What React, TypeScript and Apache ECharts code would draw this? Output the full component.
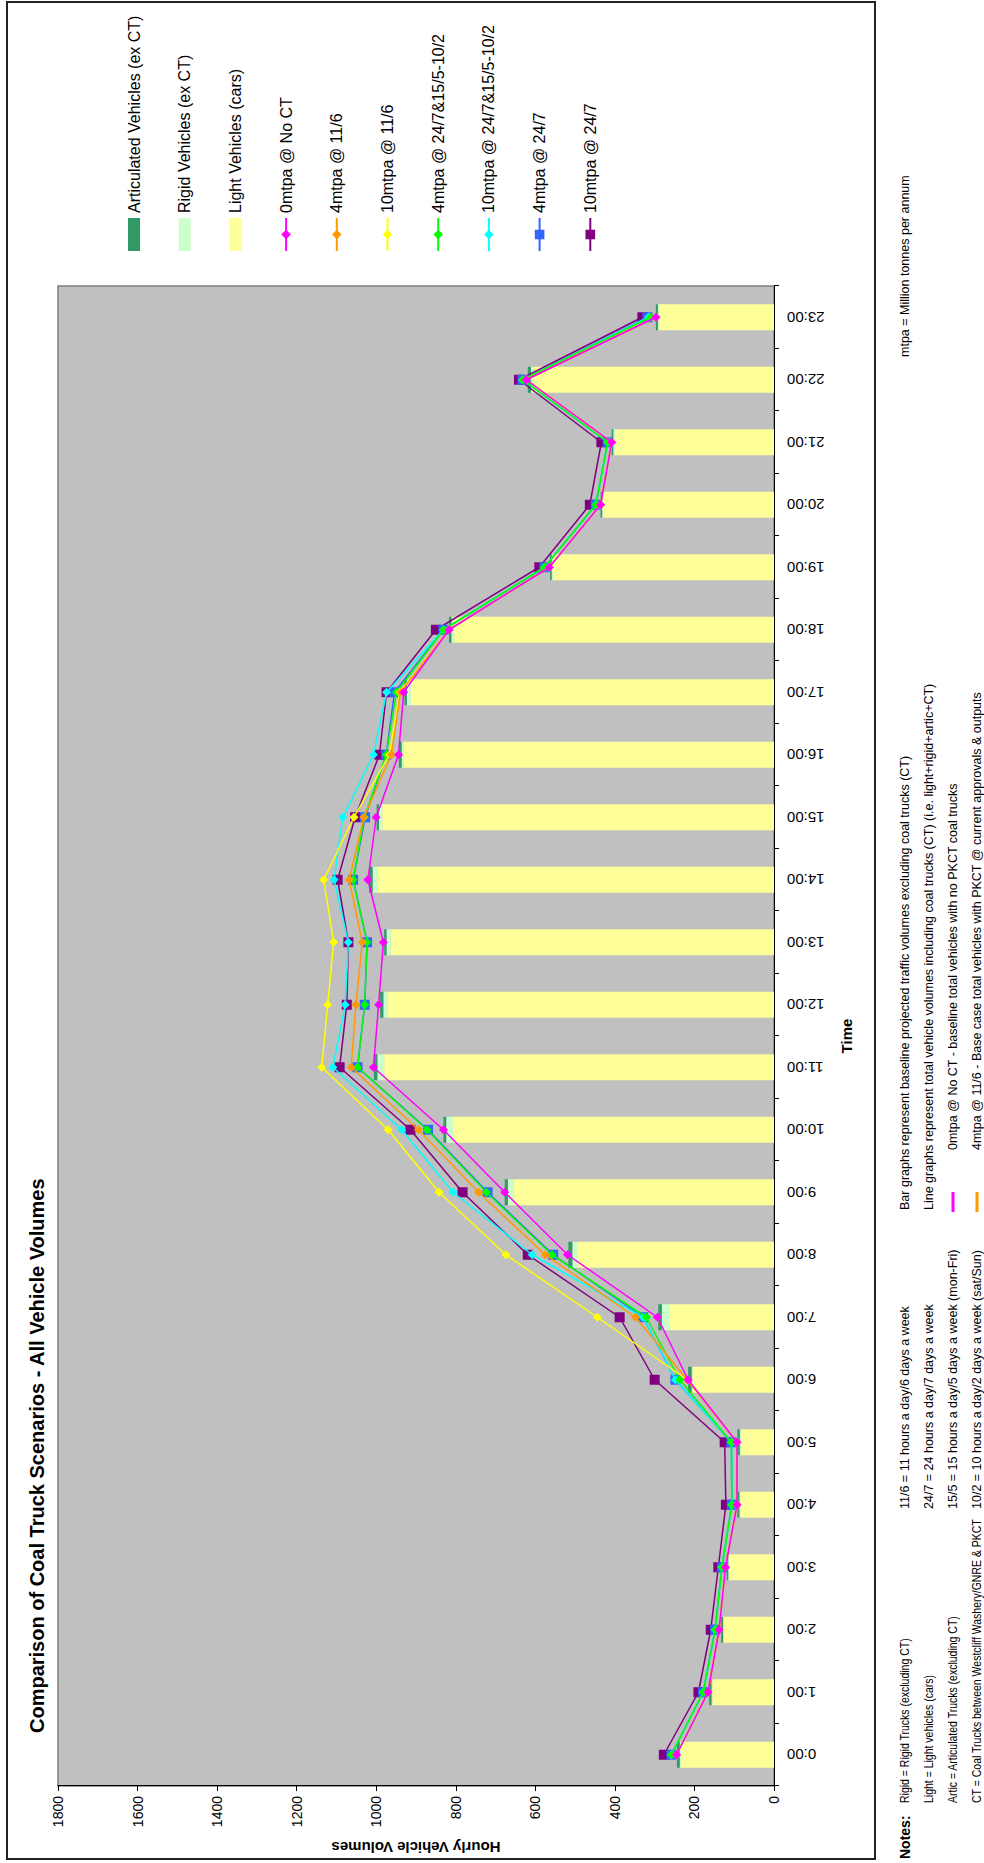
import React, { useEffect, useRef } from "react";
import * as echarts from "echarts";

const hours = [
  "0:00", "1:00", "2:00", "3:00", "4:00", "5:00", "6:00", "7:00", "8:00", "9:00", "10:00", "11:00",
  "12:00", "13:00", "14:00", "15:00", "16:00", "17:00", "18:00", "19:00", "20:00", "21:00", "22:00", "23:00",
];

const valueTicks = { min: 0, max: 1800, interval: 200 };

// Bars (baseline, excluding coal trucks)
const lightVehicles = [234, 155, 126, 113, 85, 84, 205, 264, 495, 655, 807, 980, 972, 964, 997, 985, 931, 913, 804, 557, 430, 400, 605, 290];
const rigidVehicles = [3, 2, 2, 2, 2, 2, 2, 18, 12, 14, 17, 17, 10, 10, 12, 8, 5, 10, 7, 2, 2, 4, 6, 2];
const articVehicles = [7, 6, 5, 4, 5, 6, 9, 9, 10, 8, 7, 9, 8, 6, 9, 6, 7, 6, 6, 4, 4, 4, 8, 5];

// Lines (total vehicles incl. coal trucks)
const noCT0 = [245, 166, 138, 122, 93, 93, 216, 293, 519, 677, 831, 1007, 994, 982, 1021, 1000, 944, 931, 817, 565, 436, 408, 623, 297];
const m4at116 = [245, 166, 138, 122, 93, 93, 218, 348, 575, 743, 894, 1063, 1051, 1035, 1068, 1031, 962, 939, 817, 565, 436, 408, 623, 297];
const m10at116 = [245, 166, 138, 122, 93, 93, 218, 444, 674, 842, 970, 1137, 1122, 1107, 1132, 1056, 967, 941, 817, 565, 436, 408, 623, 297];
const m4mixed = [258, 178, 148, 131, 106, 107, 237, 321, 558, 723, 872, 1047, 1029, 1023, 1058, 1030, 975, 949, 831, 577, 448, 418, 632, 310];
const m10mixed = [258, 178, 148, 131, 106, 107, 248, 329, 608, 807, 936, 1109, 1078, 1070, 1106, 1084, 1007, 974, 831, 577, 448, 418, 632, 315];
const m4at247 = [258, 178, 148, 131, 106, 107, 248, 329, 555, 720, 870, 1047, 1029, 1023, 1058, 1028, 975, 954, 831, 577, 448, 418, 632, 318];
const m10at247 = [277, 190, 159, 140, 121, 124, 300, 388, 619, 783, 914, 1092, 1074, 1070, 1097, 1053, 992, 974, 850, 590, 463, 434, 641, 331];

const barNames = ["Articulated Vehicles (ex CT)", "Rigid Vehicles (ex CT)", "Light Vehicles (cars)"];
const lineNames = [
  "0mtpa @ No CT",
  "4mtpa @ 11/6",
  "10mtpa @ 11/6",
  "4mtpa @ 24/7&15/5-10/2",
  "10mtpa @ 24/7&15/5-10/2",
  "4mtpa @ 24/7",
  "10mtpa @ 24/7",
];

const notesCol1 = [
  "Rigid = Rigid Trucks (excluding CT)",
  "Light = Light vehicles (cars)",
  "Artic = Articulated Trucks (excluding CT)",
  "CT = Coal Trucks between Westcliff Washery/GNRE & PKCT",
];
const notesCol2 = [
  "11/6 = 11 hours a day/6 days a week",
  "24/7 = 24 hours a day/7 days a week",
  "15/5 = 15 hours a day/5 days a week (mon-Fri)",
  "10/2 = 10 hours a day/2 days a week (sat/Sun)",
];
const notesCol3 = [
  "Bar graphs represent baseline projected traffic volumes excluding coal trucks (CT)",
  "Line graphs represent total vehicle volumes including coal trucks (CT) (i.e. light+rigid+artic+CT)",
  "0mtpa @ No CT - baseline total vehicles with no PKCT coal trucks",
  "4mtpa @ 11/6 - Base case total vehicles with PKCT @ current approvals & outputs",
];

const W = 1863;
const H = 984;
const FONT = "'Liberation Sans', Arial, sans-serif";

function lineSeries(name: string, data: number[], color: string, symbol: string, size: number, z: number) {
  return {
    name,
    type: "line",
    data,
    z,
    symbol,
    symbolSize: size,
    lineStyle: { color, width: 1.5 },
    itemStyle: { color },
  };
}

export default function App() {
  const ref = useRef<HTMLDivElement>(null);

  useEffect(() => {
    const chart = echarts.init(ref.current as HTMLDivElement, undefined, { renderer: "svg", width: W, height: H });

    const rowY = [905, 929, 953, 977];
    const noteStyle = (t: string) => ({ text: t, fontSize: 12.5, fontFamily: FONT, fill: "#000", verticalAlign: "middle" });
    const graphics: any[] = [
      {
        type: "rect",
        shape: { x: 4, y: 7, width: 1857, height: 868 },
        style: { fill: "none", stroke: "#222", lineWidth: 2 },
        silent: true,
      },
      {
        type: "text",
        x: 130,
        y: 37,
        style: {
          text: "Comparison of Coal Truck Scenarios - All Vehicle Volumes",
          fontSize: 20,
          fontWeight: "bold",
          fontFamily: FONT,
          fill: "#000",
          verticalAlign: "middle",
          align: "left",
        },
      },
      {
        type: "text",
        x: 4,
        y: rowY[0],
        style: { text: "Notes:", fontSize: 14, fontWeight: "bold", fontFamily: FONT, fill: "#000", verticalAlign: "middle" },
      },
      {
        type: "text",
        x: 1506,
        y: rowY[0],
        style: noteStyle("mtpa = Million tonnes per annum"),
      },
      {
        type: "line",
        shape: { x1: 651, y1: rowY[2], x2: 671, y2: rowY[2] },
        style: { stroke: "#FF00FF", lineWidth: 3 },
      },
      {
        type: "line",
        shape: { x1: 651, y1: rowY[3], x2: 671, y2: rowY[3] },
        style: { stroke: "#FF9900", lineWidth: 3 },
      },
    ];
    notesCol1.forEach((t, i) =>
      graphics.push({ type: "text", x: 60, y: rowY[i], scaleX: 0.84, style: noteStyle(t) })
    );
    notesCol2.forEach((t, i) =>
      graphics.push({ type: "text", x: 354, y: rowY[i], style: noteStyle(t) })
    );
    notesCol3.forEach((t, i) =>
      graphics.push({ type: "text", x: i < 2 ? 653 : 713, y: rowY[i], style: noteStyle(t) })
    );

    const option: any = {
      animation: false,
      backgroundColor: "#ffffff",
      textStyle: { fontFamily: FONT },
      graphic: graphics,
      legend: {
        orient: "vertical",
        left: 1606,
        top: 121,
        itemWidth: 33,
        itemHeight: 12,
        itemGap: 34.7,
        textStyle: { fontSize: 16, fontFamily: FONT, color: "#000" },
        data: [
          { name: barNames[0], icon: "rect" },
          { name: barNames[1], icon: "rect" },
          { name: barNames[2], icon: "rect" },
          ...lineNames.map((n) => ({ name: n })),
        ],
      },
      grid: {
        left: 77,
        right: W - 1577,
        top: 58,
        bottom: H - 774,
        show: true,
        backgroundColor: "#C0C0C0",
        borderColor: "#808080",
        borderWidth: 1.5,
      },
      xAxis: {
        type: "category",
        data: hours,
        boundaryGap: true,
        name: "Time",
        nameLocation: "middle",
        nameGap: 65,
        nameTextStyle: { fontSize: 15, fontWeight: "bold", color: "#000", fontFamily: FONT },
        axisLine: { show: true, lineStyle: { color: "#000", width: 1 } },
        axisTick: { show: true, length: 5, lineStyle: { color: "#000" } },
        axisLabel: { rotate: 90, margin: 13, fontSize: 15, color: "#000", fontFamily: FONT },
        splitLine: { show: false },
      },
      yAxis: {
        type: "value",
        min: valueTicks.min,
        max: valueTicks.max,
        interval: valueTicks.interval,
        name: "Hourly Vehicle Volumes",
        nameLocation: "middle",
        nameGap: 54,
        nameRotate: 90,
        nameTextStyle: { fontSize: 15, fontWeight: "bold", color: "#000", fontFamily: FONT },
        axisLine: { show: true, lineStyle: { color: "#000", width: 1 } },
        axisTick: { show: true, length: 5, lineStyle: { color: "#000" } },
        axisLabel: { margin: 10, fontSize: 14, color: "#000", fontFamily: FONT, formatter: (v: number) => String(v) },
        splitLine: { show: false },
      },
      series: [
        { name: barNames[2], type: "bar", stack: "base", data: lightVehicles, barWidth: 26, itemStyle: { color: "#FFFF99" }, z: 2 },
        { name: barNames[1], type: "bar", stack: "base", data: rigidVehicles, barWidth: 26, itemStyle: { color: "#CCFFCC" }, z: 2 },
        { name: barNames[0], type: "bar", stack: "base", data: articVehicles, barWidth: 26, itemStyle: { color: "#339966" }, z: 2 },
        lineSeries(lineNames[6], m10at247, "#800080", "rect", 10, 3),
        lineSeries(lineNames[5], m4at247, "#3366FF", "rect", 10, 4),
        lineSeries(lineNames[4], m10mixed, "#00FFFF", "diamond", 9, 5),
        lineSeries(lineNames[3], m4mixed, "#00FF00", "diamond", 9, 6),
        lineSeries(lineNames[2], m10at116, "#FFFF00", "diamond", 9, 7),
        lineSeries(lineNames[1], m4at116, "#FF9900", "diamond", 9, 8),
        lineSeries(lineNames[0], noCT0, "#FF00FF", "diamond", 9, 9),
      ],
    };

    chart.setOption(option);
    return () => chart.dispose();
  }, []);

  return (
    <div style={{ position: "absolute", left: 0, top: 0, width: 984, height: 1863, overflow: "hidden", background: "#fff" }}>
      <div
        ref={ref}
        style={{
          position: "absolute",
          left: 0,
          top: 0,
          width: W,
          height: H,
          transformOrigin: "0 0",
          transform: `translate(0px, ${W}px) rotate(-90deg)`,
        }}
      />
    </div>
  );
}
